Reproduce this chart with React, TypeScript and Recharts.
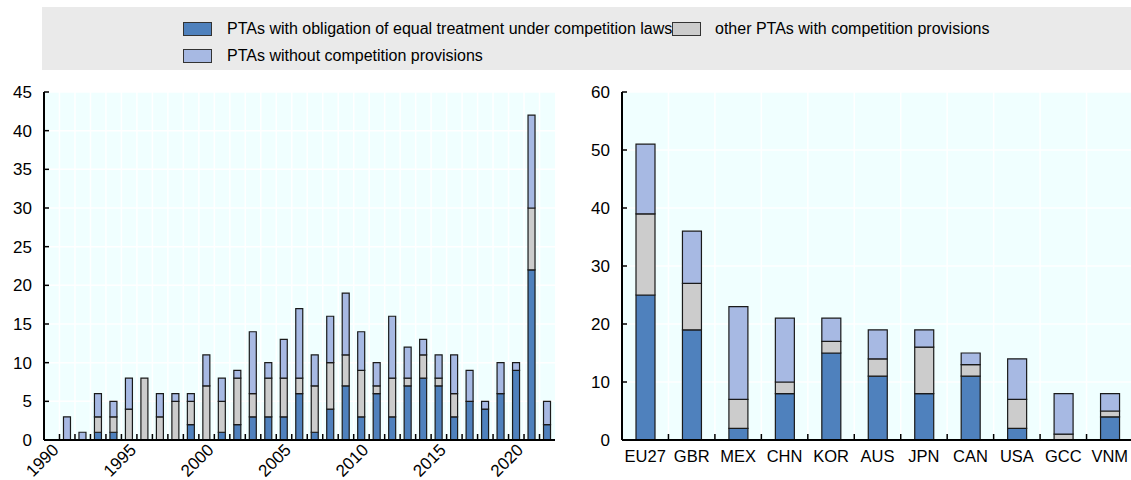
import { BarChart, Bar, XAxis, YAxis, CartesianGrid } from "recharts";

// left panel: PTAs signed per year
const years = [
  "1990", "1991", "1992", "1993", "1994", "1995", "1996", "1997", "1998", "1999",
  "2000", "2001", "2002", "2003", "2004", "2005", "2006", "2007", "2008", "2009",
  "2010", "2011", "2012", "2013", "2014", "2015", "2016", "2017", "2018", "2019",
  "2020", "2021", "2022",
];
const yearEqual = [0, 0, 0, 1, 1, 0, 0, 0, 0, 2, 0, 1, 2, 3, 3, 3, 6, 1, 4, 7, 3, 6, 3, 7, 8, 7, 3, 5, 4, 6, 9, 22, 2];
const yearOther = [0, 0, 0, 2, 2, 4, 8, 3, 5, 3, 7, 4, 6, 3, 5, 5, 2, 6, 6, 4, 6, 1, 5, 1, 3, 1, 3, 0, 0, 0, 0, 8, 0];
const yearWithout = [0, 3, 1, 3, 2, 4, 0, 3, 1, 1, 4, 3, 1, 8, 2, 5, 9, 4, 6, 8, 5, 3, 8, 4, 2, 3, 5, 4, 1, 4, 1, 12, 3];

// right panel: PTAs per economy
const economies = ["EU27", "GBR", "MEX", "CHN", "KOR", "AUS", "JPN", "CAN", "USA", "GCC", "VNM"];
const ecoEqual = [25, 19, 2, 8, 15, 11, 8, 11, 2, 0, 4];
const ecoOther = [14, 8, 5, 2, 2, 3, 8, 2, 5, 1, 1];
const ecoWithout = [12, 9, 16, 11, 4, 5, 3, 2, 7, 7, 3];

const seriesNames = [
  "PTAs with obligation of equal treatment under competition laws",
  "other PTAs with competition provisions",
  "PTAs without competition provisions",
];
const seriesColors = ["#4F81BD", "#CCCCCC", "#A7B9E3"];

const leftTicks = [0, 5, 10, 15, 20, 25, 30, 35, 40, 45];
const rightTicks = [0, 10, 20, 30, 40, 50, 60];

const yearData = years.map((year, i) => ({
  year,
  equal: yearEqual[i],
  other: yearOther[i],
  without: yearWithout[i],
}));

const ecoData = economies.map((eco, i) => ({
  eco,
  equal: ecoEqual[i],
  other: ecoOther[i],
  without: ecoWithout[i],
}));

const FONT = "Arial, 'Liberation Sans', sans-serif";
const PLOT_BG = "#F0FFFF";
const EDGE = "#1a1a1a";

// vertical gridlines sit on the category boundaries, not the centres
const boundaryLines = (n: number) => ({ offset }: any) => {
  const out: number[] = [];
  for (let i = 1; i < n; i++) out.push(offset.left + (i * offset.width) / n);
  return out;
};

function YTick({ x, y, payload }: any) {
  return (
    <g>
      <line x1={x} x2={x + 5} y1={y} y2={y} stroke="#000" strokeWidth={1.5} />
      <text x={x - 12} y={y + 6} textAnchor="end" fontSize={17} fontFamily={FONT} fill="#000">
        {payload.value}
      </text>
    </g>
  );
}

function YearTick({ x, y, payload, index }: any) {
  const half = payload.offset ?? 7.75;
  const showLabel = Number(payload.value) % 5 === 0;
  const tx = x + 8;
  const ty = y + 11;
  return (
    <g>
      {index > 0 && (
        <line x1={x - half} x2={x - half} y1={y} y2={y - 6} stroke="#000" strokeWidth={1.5} />
      )}
      {showLabel && (
        <text
          x={tx}
          y={ty}
          textAnchor="end"
          transform={`rotate(-45 ${tx} ${ty})`}
          fontSize={17}
          fontFamily={FONT}
          fill="#000"
        >
          {payload.value}
        </text>
      )}
    </g>
  );
}

function EcoTick({ x, y, payload, index }: any) {
  const half = payload.offset ?? 23.1;
  return (
    <g>
      {index > 0 && (
        <line x1={x - half} x2={x - half} y1={y} y2={y - 6} stroke="#000" strokeWidth={1.5} />
      )}
      <text x={x} y={y + 22} textAnchor="middle" fontSize={16.5} fontFamily={FONT} fill="#000">
        {payload.value}
      </text>
    </g>
  );
}

function Legend() {
  const items = [
    { i: 0, left: 183, top: 22, textLeft: 227 },
    { i: 1, left: 672, top: 22, textLeft: 715 },
    { i: 2, left: 183, top: 49, textLeft: 227 },
  ];
  return (
    <div
      style={{
        position: "absolute",
        left: 42,
        top: 7,
        width: 1089,
        height: 63,
        background: "#EAEAEA",
      }}
    >
      {items.map(({ i, left, top, textLeft }) => (
        <div key={i}>
          <div
            style={{
              position: "absolute",
              left: left - 42,
              top: top - 7,
              width: 27,
              height: 12,
              background: seriesColors[i],
              border: "1px solid #333",
            }}
          />
          <div
            style={{
              position: "absolute",
              left: textLeft - 42,
              top: top - 7 - 3,
              fontFamily: FONT,
              fontSize: 16,
              lineHeight: "20px",
              color: "#000",
              whiteSpace: "nowrap",
            }}
          >
            {seriesNames[i]}
          </div>
        </div>
      ))}
    </div>
  );
}

export default function App() {
  return (
    <div
      style={{
        position: "absolute",
        left: 0,
        top: 0,
        width: 1131,
        height: 480,
        overflow: "hidden",
        background: "#fff",
      }}
    >
      <Legend />

      <div style={{ position: "absolute", left: 0, top: 80 }}>
        <BarChart width={560} height={400} data={yearData} margin={{ top: 12, right: 5, bottom: 0, left: 0 }}>
          <CartesianGrid
            fill={PLOT_BG}
            stroke="#FFFFFF"
            strokeWidth={1.5}
            verticalCoordinatesGenerator={boundaryLines(years.length)}
          />
          <XAxis
            dataKey="year"
            interval={0}
            height={40}
            tickSize={0}
            tickMargin={0}
            tickLine={false}
            axisLine={{ stroke: "#000", strokeWidth: 2 }}
            tick={<YearTick />}
          />
          <XAxis xAxisId="top" dataKey="year" orientation="top" height={0} tick={false} tickLine={false} axisLine={{ stroke: "#000", strokeWidth: 2 }} />
          <YAxis
            domain={[0, 45]}
            ticks={leftTicks}
            width={44}
            tickSize={0}
            tickMargin={0}
            tickLine={false}
            axisLine={{ stroke: "#000", strokeWidth: 2 }}
            tick={<YTick />}
          />
          <YAxis yAxisId="right" orientation="right" width={0} tick={false} tickLine={false} axisLine={{ stroke: "#000", strokeWidth: 2 }} />
          <Bar dataKey="equal" stackId="a" fill={seriesColors[0]} stroke={EDGE} strokeWidth={1.2} barSize={7} isAnimationActive={false} />
          <Bar dataKey="other" stackId="a" fill={seriesColors[1]} stroke={EDGE} strokeWidth={1.2} barSize={7} isAnimationActive={false} />
          <Bar dataKey="without" stackId="a" fill={seriesColors[2]} stroke={EDGE} strokeWidth={1.2} barSize={7} isAnimationActive={false} />
        </BarChart>
      </div>

      <div style={{ position: "absolute", left: 570, top: 80 }}>
        <BarChart width={563} height={400} data={ecoData} margin={{ top: 12, right: 0, bottom: 0, left: 0 }}>
          <CartesianGrid
            fill={PLOT_BG}
            stroke="#FFFFFF"
            strokeWidth={1.5}
            verticalCoordinatesGenerator={boundaryLines(economies.length)}
          />
          <XAxis
            dataKey="eco"
            interval={0}
            height={40}
            tickSize={0}
            tickMargin={0}
            tickLine={false}
            axisLine={{ stroke: "#000", strokeWidth: 2 }}
            tick={<EcoTick />}
          />
          <XAxis xAxisId="top" dataKey="eco" orientation="top" height={0} tick={false} tickLine={false} axisLine={{ stroke: "#000", strokeWidth: 2 }} />
          <YAxis
            domain={[0, 60]}
            ticks={rightTicks}
            width={52}
            tickSize={0}
            tickMargin={0}
            tickLine={false}
            axisLine={{ stroke: "#000", strokeWidth: 2 }}
            tick={<YTick />}
          />
          <Bar dataKey="equal" stackId="a" fill={seriesColors[0]} stroke={EDGE} strokeWidth={1.2} barSize={19} isAnimationActive={false} />
          <Bar dataKey="other" stackId="a" fill={seriesColors[1]} stroke={EDGE} strokeWidth={1.2} barSize={19} isAnimationActive={false} />
          <Bar dataKey="without" stackId="a" fill={seriesColors[2]} stroke={EDGE} strokeWidth={1.2} barSize={19} isAnimationActive={false} />
        </BarChart>
      </div>
    </div>
  );
}
